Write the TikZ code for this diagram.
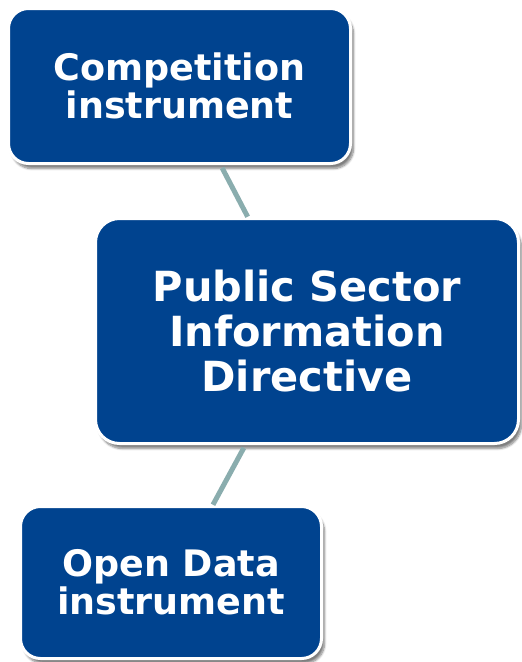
\documentclass[tikz,border=0pt]{standalone}
\usepackage{fontspec}
\setmainfont{DejaVu Sans}
\usetikzlibrary{shadows.blur}
\definecolor{psiblue}{RGB}{0,67,143}
\definecolor{linkgrey}{RGB}{138,173,174}
\tikzset{infobox/.style={draw=white, line width=3pt, fill=psiblue, rounded corners=20pt,
                         text=white, align=center, inner sep=0pt, outer sep=0pt,
                         font=\bfseries\fontsize{36.5}{38}\selectfont,
                         blur shadow={shadow xshift=3pt, shadow yshift=-5pt, shadow blur steps=8, shadow opacity=50}},
         link/.style={draw=linkgrey, line width=5pt, shorten <=5pt, shorten >=2pt}
        }

\begin{document}
\begin{tikzpicture}[x=1pt, y=-1pt]
        \useasboundingbox (0,0) rectangle (522,662);
        \node [infobox, minimum width=342pt, minimum height=155pt] (competition) at (179.5,86) {Competition\\instrument};
        \node [infobox, minimum width=423pt, minimum height=225pt, rounded corners=24pt,
               font=\bfseries\fontsize{41.5}{45}\selectfont] (psi) at (307,331) {Public Sector\\Information\\Directive};
        \node [infobox, minimum width=301pt, minimum height=152pt] (opendata) at (171,582.5) {Open Data\\instrument};
        \draw [link] (competition) -- (psi);
        \draw [link] (psi) -- (opendata);
      \end{tikzpicture}
\end{document}
